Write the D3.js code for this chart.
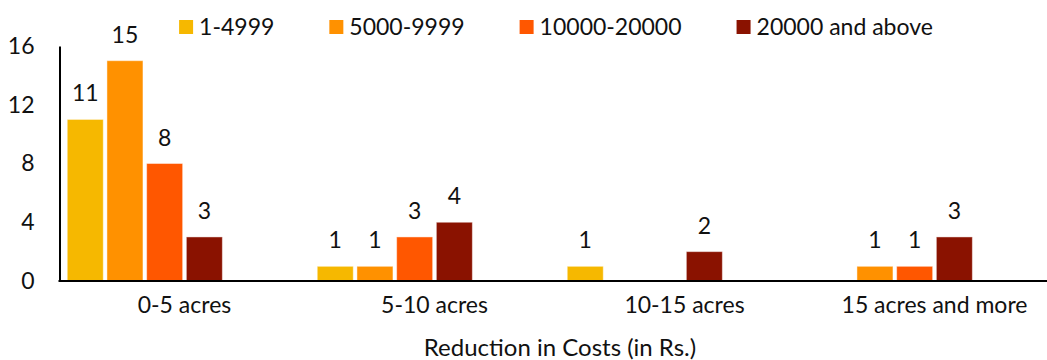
<!DOCTYPE html>
<html>
<head>
<meta charset="utf-8">
<script src="https://cdn.jsdelivr.net/npm/d3@7"></script>
<style>
  html, body { margin: 0; padding: 0; background: #fff; }
  svg { display: block; font-family: Lato, "Open Sans", sans-serif; }
</style>
</head>
<body>
<div id="chart"></div>
<script>
// Farm size groups along the category axis
const categories = ["0-5 acres", "5-10 acres", "10-15 acres", "15 acres and more"];

// Cost-reduction brackets (Rs.)
const seriesNames = ["1-4999", "5000-9999", "10000-20000", "20000 and above"];
const seriesColors = ["#F6B800", "#FF9100", "#FF5700", "#8A1200"];

// Counts per bracket, one value per farm size group
const values1to4999 = [11, 1, 1, 0];
const values5000to9999 = [15, 1, 0, 1];
const values10000to20000 = [8, 3, 0, 1];
const values20000up = [3, 4, 2, 3];
const seriesValues = [values1to4999, values5000to9999, values10000to20000, values20000up];

// Y axis ticks
const yTicks = [0, 4, 8, 12, 16];
const axisTitle = "Reduction in Costs (in Rs.)";

// Each category reserves six bar slots; only the first four hold series
const slotCount = 6;

const W = 1047, H = 360;
const FS = 23;
const svg = d3.select("#chart").append("svg")
  .attr("width", W).attr("height", H);

const x0 = d3.scaleBand()
  .domain(categories)
  .range([59.5, 1059.5])
  .paddingInner(0.062)
  .paddingOuter(0.031);

const x1 = d3.scaleBand()
  .domain(d3.range(slotCount))
  .range([0, x0.bandwidth()])
  .paddingInner(0.093)
  .paddingOuter(0);

const y = d3.scaleLinear().domain([0, 16]).range([281, 46]);

// Bars
const groups = svg.append("g").selectAll("g")
  .data(categories)
  .join("g")
  .attr("transform", d => `translate(${x0(d)},0)`);

const barData = (c, ci) => seriesNames.map((s, si) => ({
  series: s, si, value: seriesValues[si][ci]
}));

groups.each(function (c, ci) {
  const g = d3.select(this);
  const rows = barData(c, ci).filter(d => d.value > 0);
  g.selectAll("rect")
    .data(rows)
    .join("rect")
    .attr("x", d => x1(d.si))
    .attr("y", d => y(d.value))
    .attr("width", x1.bandwidth())
    .attr("height", d => y(0) - y(d.value))
    .attr("fill", d => seriesColors[d.si])
    .attr("stroke", "rgba(255,255,255,0.45)")
    .attr("stroke-width", 1);
  g.selectAll("text")
    .data(rows)
    .join("text")
    .attr("x", d => x1(d.si) + x1.bandwidth() / 2)
    .attr("y", d => y(d.value) - 18)
    .attr("text-anchor", "middle")
    .attr("font-size", FS)
    .attr("fill", "#111")
    .text(d => d.value);
});

// Y axis
const yAxis = svg.append("g")
  .attr("transform", "translate(59.5,0)")
  .call(d3.axisLeft(y).tickValues(yTicks).tickSize(0).tickPadding(25));
yAxis.select(".domain").attr("stroke", "#000").attr("stroke-width", 2);
yAxis.selectAll("text").attr("font-size", FS).attr("fill", "#111")
  .attr("font-family", "Lato, sans-serif");

// X axis
const xAxis = svg.append("g")
  .attr("transform", `translate(0,${y(0)})`)
  .call(d3.axisBottom(x0).tickSize(0).tickPadding(16));
xAxis.select(".domain").remove();
xAxis.append("line")
  .attr("x1", 58.5).attr("x2", 1047).attr("y1", 0).attr("y2", 0)
  .attr("stroke", "#000").attr("stroke-width", 2);
xAxis.selectAll("text").attr("font-size", FS).attr("fill", "#111")
  .attr("font-family", "Lato, sans-serif");

// Axis title
svg.append("text")
  .attr("x", 560).attr("y", 356)
  .attr("text-anchor", "middle")
  .attr("font-size", FS + 1)
  .attr("fill", "#111")
  .text(axisTitle);

// Legend: square swatch then label, items separated by a fixed gap
const legendGap = 55;
const legend = svg.append("g");
const items = legend.selectAll("g")
  .data(seriesNames)
  .join("g");
items.append("rect")
  .attr("width", 14).attr("height", 14)
  .attr("y", 20)
  .attr("fill", (d, i) => seriesColors[i]);
items.append("text")
  .attr("x", 20).attr("y", 35)
  .attr("font-size", FS)
  .attr("fill", "#111")
  .text(d => d);
let cursor = 0;
items.each(function () {
  const w = this.getBBox().width;
  d3.select(this).attr("transform", `translate(${cursor},0)`);
  cursor += w + legendGap;
});
const legendWidth = cursor - legendGap;
legend.attr("transform", `translate(${556 - legendWidth / 2},0)`);
</script>
</body>
</html>
